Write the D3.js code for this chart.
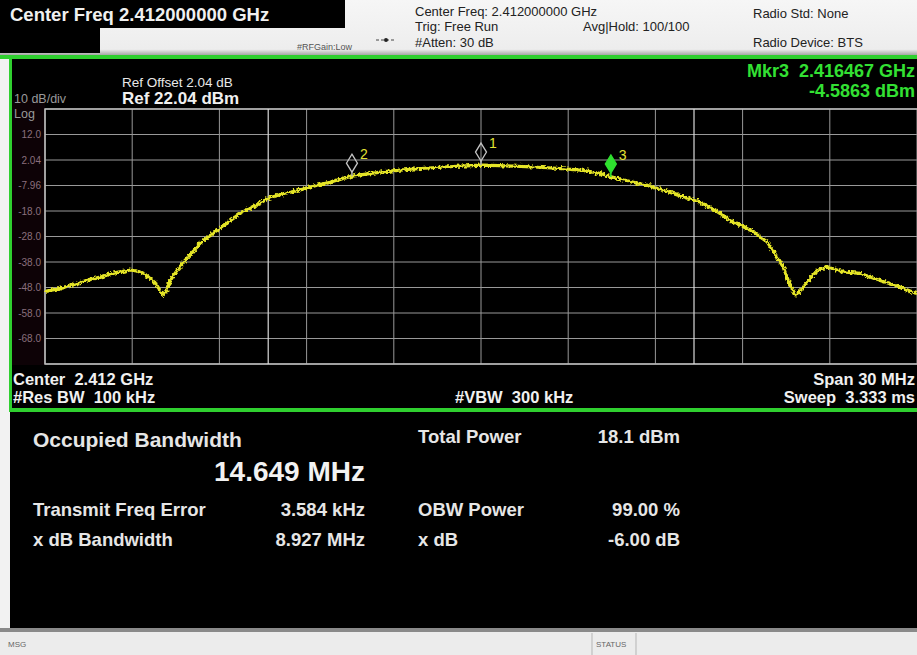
<!DOCTYPE html>
<html lang="en">
<head>
<meta charset="UTF-8">
<title>Occupied Bandwidth</title>
<script src="https://d3js.org/d3.v7.min.js"></script>
<style>
html, body { margin: 0; padding: 0; background: #ffffff; overflow: hidden; }
svg { display: block; font-family: "Liberation Sans", Arial, sans-serif; }
svg text { white-space: pre; }
.grid line { stroke: #999999; stroke-width: 1; }
.ylab { fill: #8a6f7d; font-size: 10px; }
.bold { font-weight: bold; }
.trace { fill: none; stroke: #e4e428; stroke-width: 3.2; stroke-linejoin: round; }
</style>
</head>
<body>
<svg width="917" height="655"></svg>
<script>
// trace: offset from centre (MHz) and level (dBm)
const traceFreqMHz = [-15.0, -14.6, -14.24, -13.9, -13.56, -13.1, -12.66, -12.3, -12.08, -11.8, -11.56, -11.22, -11.05, -10.94, -10.82, -10.7,
  -10.45, -10.18, -9.9, -9.67, -9.4, -9.15, -8.9, -8.64, -8.3, -7.95, -7.6, -7.33, -6.8, -6.23, -5.7, -5.19, -4.8, -4.44,
  -3.9, -3.4, -2.79, -2.1, -1.41, -0.7, 0.03, 0.9, 1.79, 2.6, 3.51, 4.0, 4.51, 5.1, 5.81, 6.6, 7.53, 8.1, 8.67, 9.25,
  9.84, 10.1, 10.39, 10.63, 10.84, 11.0, 11.22, 11.56, 11.9, 12.2, 12.45, 13.04, 13.62, 14.0, 14.41, 15.0];
const traceDbm = [-49.5, -48.6, -47.6, -46.5, -45.1, -43.9, -42.4, -41.6, -41.1, -41.6, -42.8, -46.0, -48.9, -51.0, -49.3, -45.4,
  -41.2, -37.3, -33.8, -30.6, -28.3, -26.1, -24.2, -21.9, -19.0, -16.8, -14.9, -13.0, -11.2, -9.7, -8.0, -6.7, -5.3, -4.3,
  -3.4, -2.6, -1.9, -1.3, -0.8, -0.4, 0.0, -0.3, -0.7, -1.2, -2.0, -3.0, -4.6, -6.3, -8.2, -11.0, -14.4, -18.0, -22.2, -25.4,
  -30.0, -34.5, -39.8, -47.0, -51.2, -49.0, -46.0, -41.3, -40.0, -40.8, -41.8, -42.4, -44.8, -46.2, -47.8, -50.4];

const yTickLabels = ['12.0', '2.04', '-7.96', '-18.0', '-28.0', '-38.0', '-48.0', '-58.0', '-68.0'];

const markerIds = ['1', '2', '3'];
const markerFreqMHz = [0.0, -4.44, 4.467];
const markerDbm = [0.05, -4.3, -4.5863];

const obwEdgesMHz = [-7.3245 + 0.0036, 7.3245 + 0.0036];

const refLevel = 22.04;
const dbPerDiv = 10;

const svg = d3.select('svg');

const x = d3.scaleLinear().domain([-15, 15]).range([45, 917]);
const y = d3.scaleLinear().domain([refLevel - 10 * dbPerDiv, refLevel]).range([364, 109]);

const txt = (g, px, py, s, cls, size, fill, anchor) =>
  g.append('text')
    .attr('x', px).attr('y', py)
    .attr('class', cls || null)
    .attr('font-size', size)
    .attr('fill', fill)
    .attr('text-anchor', anchor || 'start')
    .text(s);

// ---------- header ----------
const defs = svg.append('defs');
const hg = defs.append('linearGradient').attr('id', 'hdr').attr('x1', 0).attr('y1', 0).attr('x2', 0).attr('y2', 1);
hg.append('stop').attr('offset', '0%').attr('stop-color', '#f6f6f6');
hg.append('stop').attr('offset', '88%').attr('stop-color', '#ededed');
hg.append('stop').attr('offset', '100%').attr('stop-color', '#9a9a9a');

const noise = defs.append('filter').attr('id', 'fuzz')
  .attr('x', '-2%').attr('y', '-10%').attr('width', '104%').attr('height', '120%');
noise.append('feTurbulence').attr('type', 'fractalNoise').attr('baseFrequency', 0.4)
  .attr('numOctaves', 2).attr('seed', 3).attr('result', 'n');
noise.append('feDisplacementMap').attr('in', 'SourceGraphic').attr('in2', 'n')
  .attr('scale', 5).attr('xChannelSelector', 'R').attr('yChannelSelector', 'G');

const head = svg.append('g');
head.append('rect').attr('width', 917).attr('height', 56).attr('fill', 'url(#hdr)');
head.append('rect').attr('width', 345).attr('height', 28).attr('fill', '#000');
head.append('rect').attr('y', 28).attr('width', 100).attr('height', 25).attr('fill', '#000');
txt(head, 10, 21, 'Center Freq 2.412000000 GHz', 'bold', 18.5, '#f0f0f0');
txt(head, 297, 50, '#RFGain:Low', null, 9, '#555');
head.append('line').attr('x1', 376).attr('x2', 396).attr('y1', 40).attr('y2', 40)
  .attr('stroke', '#444').attr('stroke-dasharray', '3,2');
head.append('circle').attr('cx', 386).attr('cy', 40).attr('r', 2).attr('fill', '#222');
txt(head, 415, 16, 'Center Freq: 2.412000000 GHz', null, 13, '#222');
txt(head, 415, 31, 'Trig: Free Run', null, 13, '#222');
txt(head, 583, 31, 'Avg|Hold: 100/100', null, 13, '#222');
txt(head, 415, 47, '#Atten: 30 dB', null, 13, '#222');
txt(head, 753, 18, 'Radio Std: None', null, 13, '#222');
txt(head, 753, 47, 'Radio Device: BTS', null, 13, '#222');

// ---------- screen body ----------
svg.append('rect').attr('y', 56).attr('width', 917).attr('height', 576).attr('fill', '#f2f2f2');
svg.append('rect').attr('x', 10).attr('y', 56).attr('width', 907).attr('height', 574).attr('fill', '#000');
svg.append('rect').attr('x', 12).attr('y', 100).attr('width', 33).attr('height', 265).attr('fill', '#0d0206');

// green borders of the graph window
const green = '#2fcf2f';
svg.append('rect').attr('x', 0).attr('y', 55).attr('width', 917).attr('height', 4).attr('fill', green);
svg.append('rect').attr('x', 9).attr('y', 55).attr('width', 3).attr('height', 357).attr('fill', green);
svg.append('rect').attr('x', 9).attr('y', 408).attr('width', 908).attr('height', 4).attr('fill', green);

// ---------- graticule ----------
const grid = svg.append('g').attr('class', 'grid');
const yLines = d3.range(0, 11).map(i => refLevel - i * dbPerDiv);
const xLines = d3.range(-15, 15.001, 3);

grid.selectAll('line.h').data(yLines).enter().append('line')
  .attr('class', 'h')
  .attr('x1', x(-15)).attr('x2', x(15))
  .attr('y1', d => y(d)).attr('y2', d => y(d));
grid.selectAll('line.v').data(xLines).enter().append('line')
  .attr('class', 'v')
  .attr('x1', d => x(d)).attr('x2', d => x(d))
  .attr('y1', y(refLevel)).attr('y2', y(refLevel - 100));

// frame a little brighter
svg.append('rect')
  .attr('x', x(-15)).attr('y', y(refLevel))
  .attr('width', x(15) - x(-15) + 2).attr('height', y(refLevel - 100) - y(refLevel))
  .attr('fill', 'none').attr('stroke', '#bcbcbc').attr('stroke-width', 1.5);

// OBW edge lines
svg.selectAll('line.obw').data(obwEdgesMHz).enter().append('line')
  .attr('class', 'obw')
  .attr('x1', d => x(d)).attr('x2', d => x(d))
  .attr('y1', y(refLevel)).attr('y2', y(refLevel - 100))
  .attr('stroke', '#dadada').attr('stroke-width', 1.2);

// y labels
svg.selectAll('text.ylab').data(yTickLabels).enter().append('text')
  .attr('class', 'ylab')
  .attr('x', 41)
  .attr('y', (d, i) => y(refLevel - (i + 1) * dbPerDiv) + 3.5)
  .attr('text-anchor', 'end')
  .text(d => d);

const plotTxt = svg.append('g');
txt(plotTxt, 14, 103, '10 dB/div', null, 12.5, '#9a9a9a');
txt(plotTxt, 14, 118, 'Log', null, 12.5, '#9a9a9a');
txt(plotTxt, 122, 87, 'Ref Offset 2.04 dB', null, 13.5, '#e8e8e8');
txt(plotTxt, 122, 104, 'Ref 22.04 dBm', 'bold', 17, '#f0f0f0');
txt(plotTxt, 915, 77, 'Mkr3  2.416467 GHz', 'bold', 18, '#33e033', 'end');
txt(plotTxt, 915, 97, '-4.5863 dBm', 'bold', 18, '#33e033', 'end');

txt(plotTxt, 13, 385, 'Center  2.412 GHz', 'bold', 16.5, '#f0f0f0');
txt(plotTxt, 13, 403, '#Res BW  100 kHz', 'bold', 16.5, '#f0f0f0');
txt(plotTxt, 455, 403, '#VBW  300 kHz', 'bold', 16.5, '#f0f0f0');
txt(plotTxt, 915, 385, 'Span 30 MHz', 'bold', 16.5, '#f0f0f0', 'end');
txt(plotTxt, 915, 403, 'Sweep  3.333 ms', 'bold', 16.5, '#f0f0f0', 'end');

// ---------- trace ----------
const traceData = traceFreqMHz.map((f, i) => [f, traceDbm[i]]);
const line = d3.line().x(d => x(d[0])).y(d => y(d[1]));

svg.append('path')
  .datum(traceData)
  .attr('class', 'trace')
  .attr('filter', 'url(#fuzz)')
  .attr('d', line);

// ---------- markers ----------
const mk = svg.selectAll('g.mk').data(markerIds).enter().append('g')
  .attr('class', 'mk')
  .attr('transform', (d, i) => `translate(${x(markerFreqMHz[i])},${y(markerDbm[i])})`);

mk.append('line')
  .attr('x1', 0).attr('x2', 0).attr('y1', -4).attr('y2', 0)
  .attr('stroke', (d, i) => i === 2 ? '#2fe02f' : '#b0b0b0').attr('stroke-width', 1.5);
mk.append('path')
  .attr('d', 'M0,-22 L5.5,-13 L0,-4 L-5.5,-13 Z')
  .attr('fill', (d, i) => i === 2 ? '#2fe02f' : 'none')
  .attr('stroke', (d, i) => i === 2 ? '#2fe02f' : '#c4c4c4')
  .attr('stroke-width', 1.3);
mk.append('text')
  .attr('x', 8).attr('y', -17)
  .attr('font-size', 14)
  .attr('fill', '#e2e234')
  .text(d => d);

// ---------- result panel ----------
const res = svg.append('g');
txt(res, 33, 447, 'Occupied Bandwidth', 'bold', 21, '#e6e6e6');
txt(res, 365, 481, '14.649 MHz', 'bold', 28, '#f2f2f2', 'end');
txt(res, 33, 516, 'Transmit Freq Error', 'bold', 18.5, '#e6e6e6');
txt(res, 365, 516, '3.584 kHz', 'bold', 18.5, '#e6e6e6', 'end');
txt(res, 33, 546, 'x dB Bandwidth', 'bold', 18.5, '#e6e6e6');
txt(res, 365, 546, '8.927 MHz', 'bold', 18.5, '#e6e6e6', 'end');
txt(res, 418, 443, 'Total Power', 'bold', 18.5, '#e6e6e6');
txt(res, 680, 443, '18.1 dBm', 'bold', 18.5, '#e6e6e6', 'end');
txt(res, 418, 516, 'OBW Power', 'bold', 18.5, '#e6e6e6');
txt(res, 680, 516, '99.00 %', 'bold', 18.5, '#e6e6e6', 'end');
txt(res, 418, 546, 'x dB', 'bold', 18.5, '#e6e6e6');
txt(res, 680, 546, '-6.00 dB', 'bold', 18.5, '#e6e6e6', 'end');

// ---------- status bar ----------
svg.append('rect').attr('y', 628).attr('width', 917).attr('height', 4).attr('fill', '#8a8a8a');
svg.append('rect').attr('y', 632).attr('width', 917).attr('height', 23).attr('fill', '#ececec');
svg.append('line').attr('x1', 592).attr('x2', 592).attr('y1', 633).attr('y2', 655).attr('stroke', '#b5b5b5');
svg.append('line').attr('x1', 636).attr('x2', 636).attr('y1', 633).attr('y2', 655).attr('stroke', '#b5b5b5');
txt(svg, 8, 647, 'MSG', null, 8, '#666');
txt(svg, 596, 647, 'STATUS', null, 8, '#666');
</script>
</body>
</html>
